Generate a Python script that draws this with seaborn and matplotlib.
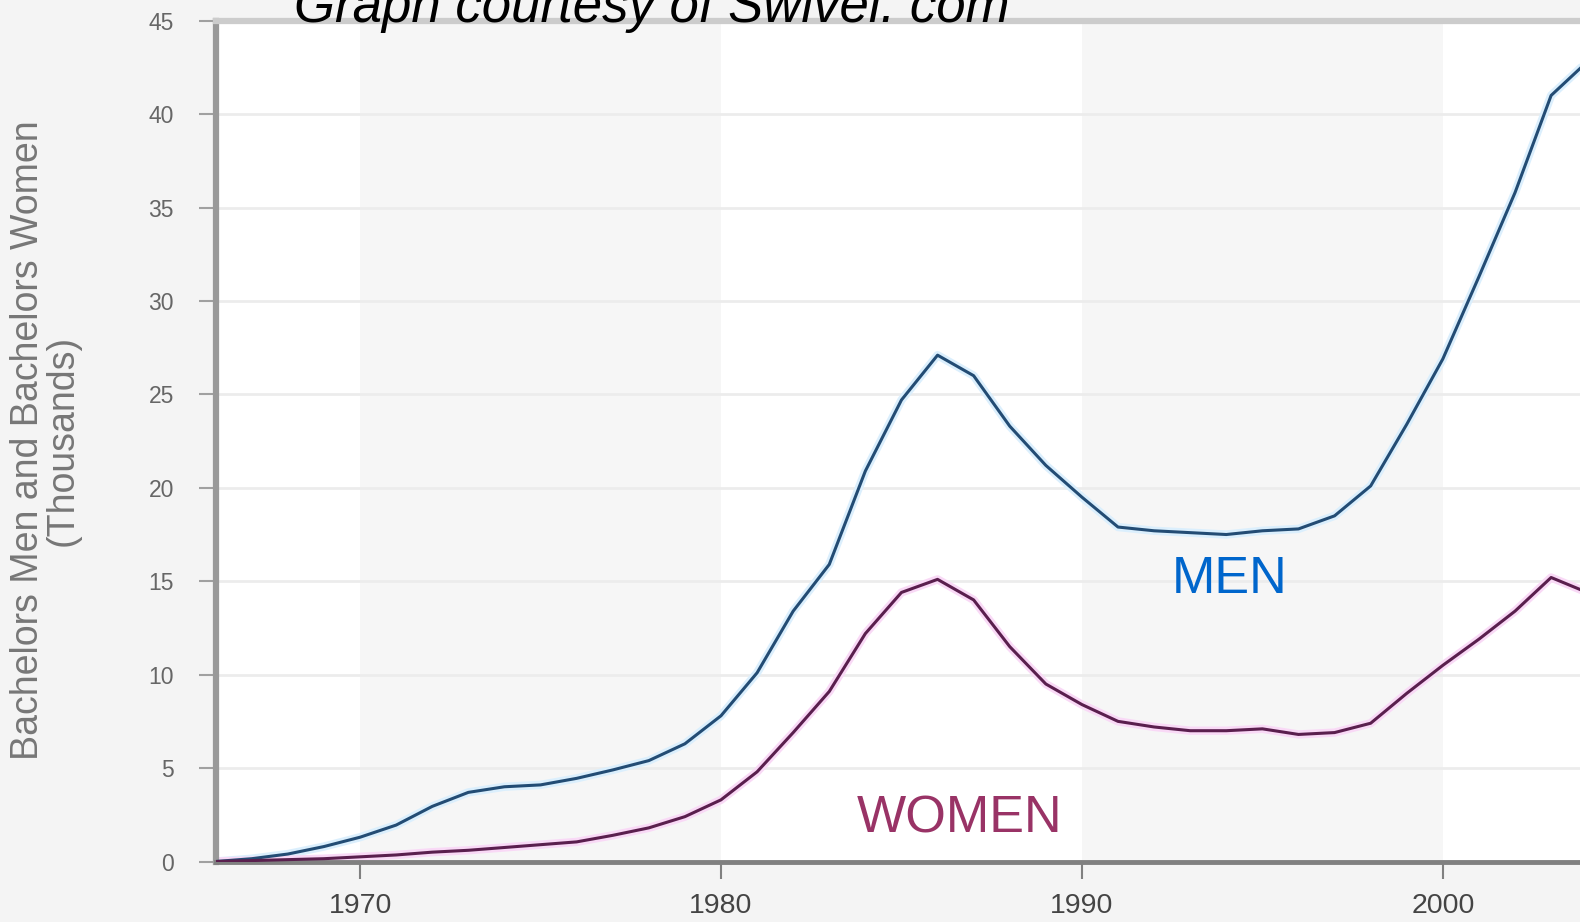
import numpy as np
import pandas as pd
import matplotlib
matplotlib.use("Agg")
import matplotlib.pyplot as plt
import seaborn as sns

years = list(range(1966, 2005))
men = [0.0, 0.15, 0.4, 0.8, 1.3, 1.95, 2.95, 3.7, 4.0, 4.1,
       4.45, 4.9, 5.4, 6.3, 7.8, 10.1, 13.4, 15.9, 20.9, 24.7,
       27.1, 26.0, 23.3, 21.2, 19.5, 17.9, 17.7, 17.6, 17.5, 17.7,
       17.8, 18.5, 20.1, 23.4, 26.9, 31.3, 35.8, 41.0, 42.8]
women = [0.0, 0.05, 0.1, 0.15, 0.25, 0.35, 0.5, 0.6, 0.75, 0.9,
         1.05, 1.4, 1.8, 2.4, 3.3, 4.8, 6.9, 9.1, 12.2, 14.4,
         15.1, 14.0, 11.5, 9.5, 8.4, 7.5, 7.2, 7.0, 7.0, 7.1,
         6.8, 6.9, 7.4, 9.0, 10.5, 11.9, 13.4, 15.2, 14.4]
series_names = ["Men", "Women"]
y_ticks = list(range(0, 50, 5))
x_ticks = [1970, 1980, 1990, 2000]
band_starts = [1970, 1990]
title = "Graph courtesy of Swivel. com"
ylabel = "Bachelors Men and Bachelors Women\n(Thousands)"

n = len(years)
df = pd.DataFrame({
    "Year": years * 2,
    "Value": men + women,
    "Sex": [series_names[0]] * n + [series_names[1]] * n,
})

sns.set_style("white")
plt.rcParams["font.family"] = ["Liberation Sans", "DejaVu Sans"]

W, H = 1580, 922
fig = plt.figure(figsize=(W / 100, H / 100), dpi=100)
fig.patch.set_facecolor("#f4f4f4")
left = 215.7 / W
bottom = 1 - 861.5 / H
top = 1 - 20.7 / H
ax = fig.add_axes([left, bottom, 1.0 - left, top - bottom])
ax.set_facecolor("white")

for b in band_starts:
    ax.axvspan(b, b + 10, color="#f6f6f6", lw=0, zorder=0)
for t in y_ticks[1:]:
    ax.axhline(t, color="#ececec", lw=2, zorder=0.5)

sns.lineplot(data=df, x="Year", y="Value", hue="Sex",
             palette={"Men": "#dbeffd", "Women": "#f9d9f6"},
             linewidth=6, legend=False, ax=ax, zorder=2)
sns.lineplot(data=df, x="Year", y="Value", hue="Sex",
             palette={"Men": "#234c74", "Women": "#5a1f4e"},
             linewidth=2.2, legend=False, ax=ax, zorder=3)

ax.set_xlim(1966, 2003.8)
ax.set_ylim(0, 45)
ax.set_xticks(x_ticks)
ax.set_xticklabels([str(x) for x in x_ticks])
ax.set_yticks(y_ticks)
ax.set_yticklabels([str(y) for y in y_ticks])
ax.set_xlabel("")
ax.set_ylabel("")

ax.tick_params(axis="y", direction="out", length=12, width=1.5, color="#a0a0a0",
               labelsize=16.5, labelcolor="#666666", pad=18, left=True)
ax.tick_params(axis="x", direction="out", length=12, width=1.5, color="#808080",
               labelsize=20.5, labelcolor="#444444", pad=11, bottom=True)

for side in ["top", "left", "bottom", "right"]:
    ax.spines[side].set_visible(True)
ax.spines["top"].set_color("#cccccc")
ax.spines["top"].set_linewidth(4.5)
ax.spines["left"].set_color("#999999")
ax.spines["left"].set_linewidth(4.5)
ax.spines["bottom"].set_color("#808080")
ax.spines["bottom"].set_linewidth(3.5)
ax.spines["right"].set_visible(False)

ax.text(1994.1, 15.1, "MEN", color="#0066cc", fontsize=37.5, ha="center", va="center", zorder=4)
ax.text(1986.6, 2.3, "WOMEN", color="#993366", fontsize=37.5, ha="center", va="center", zorder=4)

fig.text(294 / W, 1 - 22 / H, title, fontsize=38, fontstyle="italic",
         color="black", ha="left", va="baseline", zorder=10)
fig.text(45 / W, 1 - 440 / H, ylabel, fontsize=27, rotation=90, color="#777777",
         ha="center", va="center", multialignment="center", linespacing=0.95)

fig.savefig("out.png", dpi=100, facecolor=fig.get_facecolor())
